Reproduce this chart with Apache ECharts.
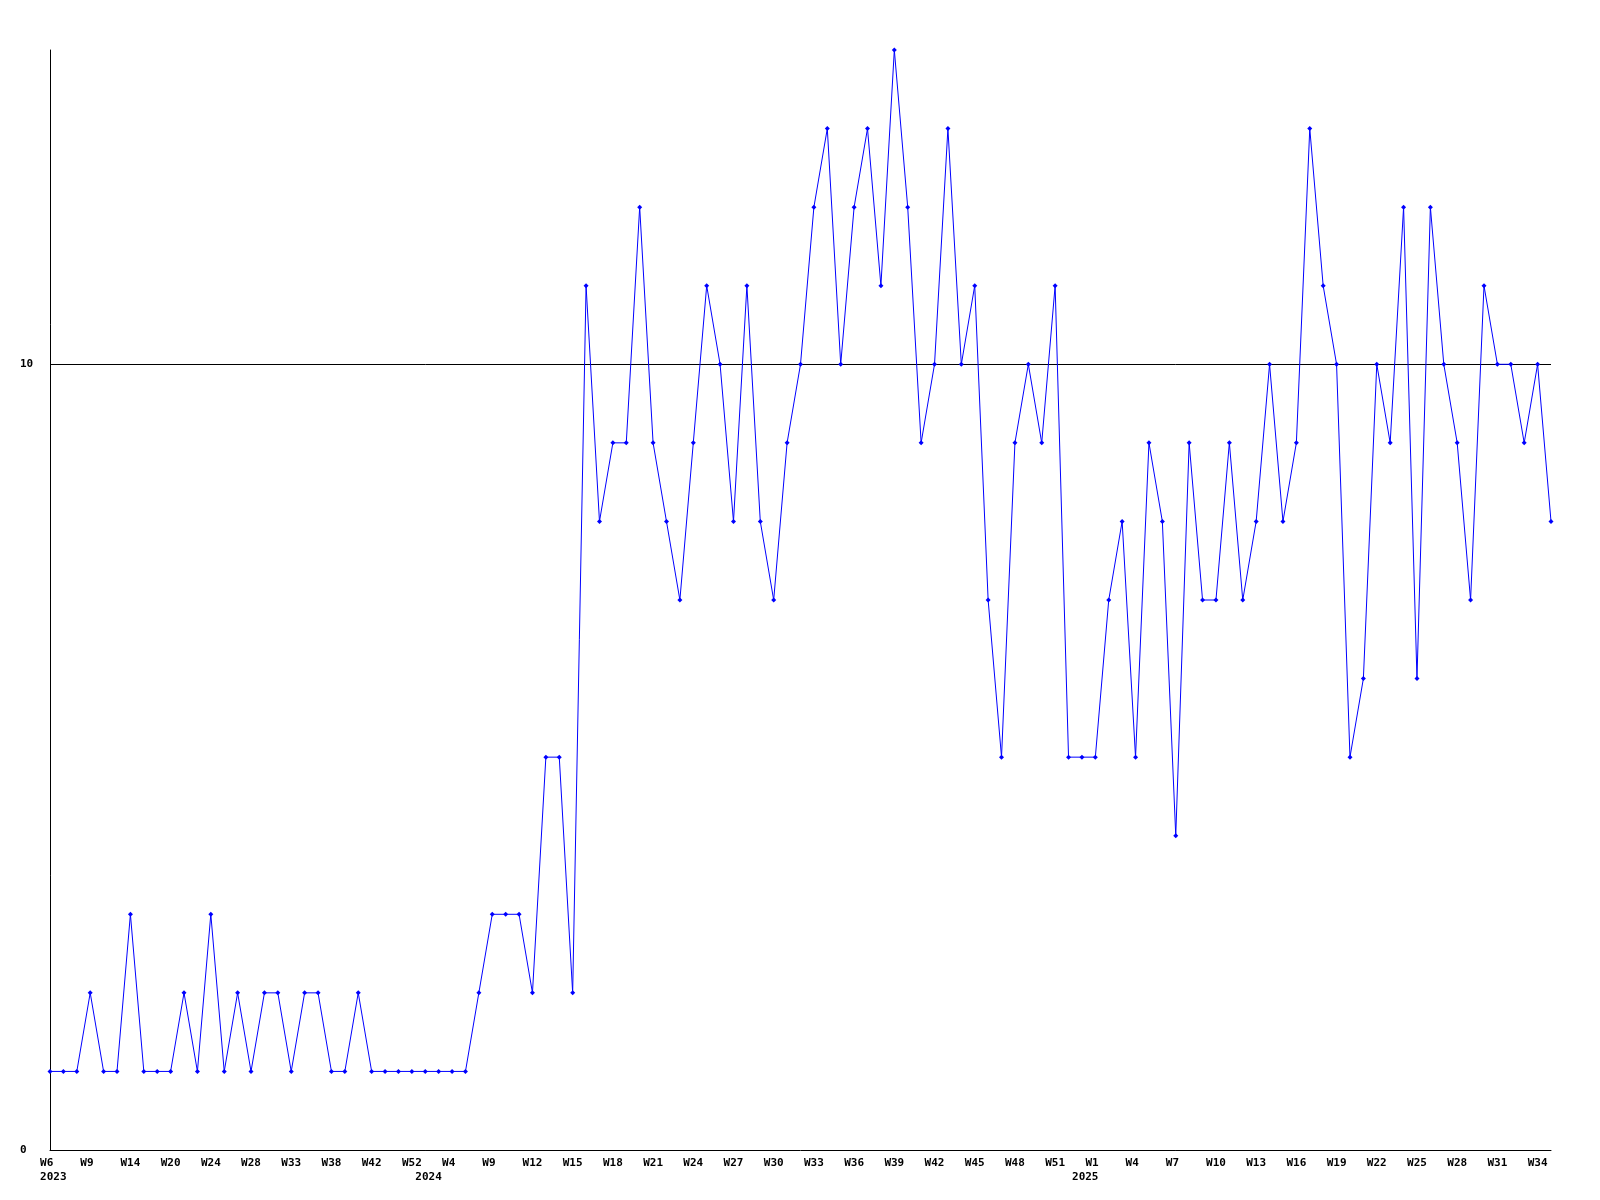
<!DOCTYPE html>
<html>
<head>
<meta charset="utf-8">
<script src="https://cdn.jsdelivr.net/npm/echarts@6/dist/echarts.min.js"></script>
<style>
html,body{margin:0;padding:0;background:#fff;}
#chart{width:1600px;height:1200px;}
</style>
</head>
<body>
<div id="chart"></div>
<script>
// Week categories per year (points are consecutive observations)
var weeks2023 = ['W6','W7','W8','W9','W11','W13','W14','W16','W18','W20','W22','W23','W24','W26','W27','W28','W30','W31','W33','W35','W36','W38','W40','W41','W42','W45','W48','W52'];
var weeks2024 = ['W1','W2','W4','W6','W7','W9','W10','W11','W12','W13','W14','W15','W16','W17','W18','W19','W20','W21','W22','W23','W24','W25','W26','W27','W28','W29','W30','W31','W32','W33','W34','W35','W36','W37','W38','W39','W40','W41','W42','W43','W44','W45','W46','W47','W48','W49','W50','W51','W52'];
var weeks2025 = ['W0','W1','W2','W3','W4','W5','W6','W7','W8','W9','W10','W11','W12','W13','W14','W15','W16','W17','W18','W19','W20','W21','W22','W23','W24','W25','W26','W27','W28','W29','W30','W31','W32','W33','W34','W35'];

var values = [
  1,1,1,2,1,1,3,1,1,1,
  2,1,3,1,2,1,2,2,1,2,
  2,1,1,2,1,1,1,1,1,1,
  1,1,2,3,3,3,2,5,5,2,
  11,8,9,9,12,9,8,7,9,11,
  10,8,11,8,7,9,10,12,13,10,
  12,13,11,14,12,9,10,13,10,11,
  7,5,9,10,9,11,5,5,5,7,
  8,5,9,8,4,9,7,7,9,7,
  8,10,8,9,13,11,10,5,6,10,
  9,12,6,12,10,9,7,11,10,10,
  9,10,8
];

var yLabels = [0, 10];
var referenceLine = 10;
var yMax = 14;

var categories = [];
weeks2023.forEach(function(w){ categories.push('2023 ' + w); });
weeks2024.forEach(function(w){ categories.push('2024 ' + w); });
weeks2025.forEach(function(w){ categories.push('2025 ' + w); });

// labels in the reference start a fixed distance left of the tick (monospace padding)
function padRight(s, n) { while (s.length < n) s = s + '\u00a0'; return s; }

var FONT = 'DejaVu Sans Mono';
var chart = echarts.init(document.getElementById('chart'));
chart.setOption({
  animation: false,
  backgroundColor: '#ffffff',
  grid: { left: 50, right: 49, top: 50, bottom: 50, containLabel: false },
  xAxis: [{
    type: 'category',
    data: categories,
    boundaryGap: false,
    axisLine: { show: true, lineStyle: { color: '#000', width: 1 } },
    axisTick: { show: false },
    splitLine: { show: false },
    axisLabel: {
      interval: 2,
      margin: 8,
      color: '#000',
      fontFamily: FONT,
      fontWeight: 'bold',
      fontSize: 11,
      formatter: function (v) { return padRight(v.split(' ')[1], 3); }
    }
  }, {
    type: 'category',
    data: categories,
    boundaryGap: false,
    position: 'bottom',
    offset: 14,
    axisLine: { show: false },
    axisTick: { show: false },
    splitLine: { show: false },
    axisLabel: {
      interval: 0,
      margin: 8,
      color: '#000',
      fontFamily: FONT,
      fontWeight: 'bold',
      fontSize: 11,
      formatter: function (v, i) {
        var y = v.split(' ')[0];
        var show = (i === 0) || (categories[i - 1].split(' ')[0] !== y);
        return show ? '\u00a0' + y : '';
      }
    }
  }],
  yAxis: {
    type: 'value',
    min: 0,
    max: yMax,
    interval: 10,
    axisLine: { show: true, lineStyle: { color: '#000', width: 1 } },
    axisTick: { show: false },
    splitLine: { show: false },
    axisLabel: {
      align: 'left',
      margin: 30,
      color: '#000',
      fontFamily: FONT,
      fontWeight: 'bold',
      fontSize: 11,
      formatter: function (v) { return yLabels.indexOf(v) >= 0 ? String(v) : ''; }
    }
  },
  series: [{
    type: 'line',
    data: values,
    xAxisIndex: 0,
    color: '#0000ff',
    lineStyle: { color: '#0000ff', width: 1 },
    itemStyle: { color: '#0000ff' },
    symbol: 'diamond',
    symbolSize: 5,
    showSymbol: true,
    showAllSymbol: true,
    clip: true,
    markLine: {
      silent: true,
      symbol: ['none', 'none'],
      label: { show: false },
      lineStyle: { color: '#000', width: 1, type: 'solid' },
      data: [{ yAxis: referenceLine }],
      z: 1
    },
    z: 2
  }]
});
</script>
</body>
</html>
